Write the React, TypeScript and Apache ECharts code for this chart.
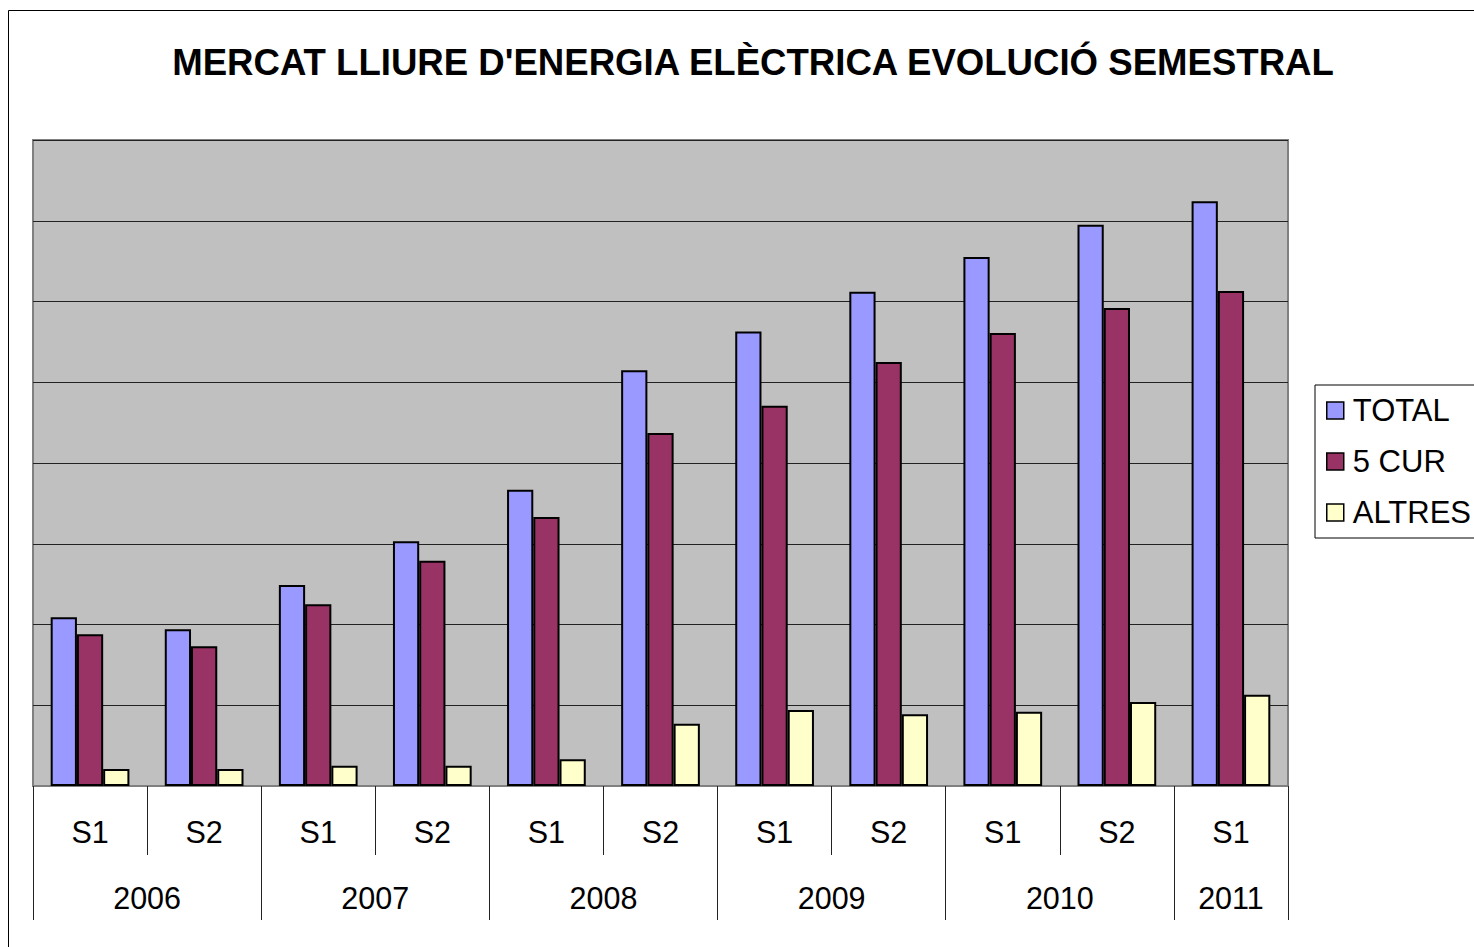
import React, { useEffect, useRef } from "react";
import * as echarts from "echarts";

const semesters = ["S1", "S2", "S1", "S2", "S1", "S2", "S1", "S2", "S1", "S2", "S1"];
const years = ["2006", "2007", "2008", "2009", "2010", "2011"];
const yearLabelPos = [1, 3, 5, 7, 9, 10.5];
const yearBoundaries = [0, 2, 4, 6, 8, 10, 11];
const seriesNames = ["TOTAL", "5 CUR", "ALTRES"];
const total = [2.09, 1.94, 2.49, 3.03, 3.67, 5.15, 5.63, 6.12, 6.55, 6.95, 7.24];
const cur5 = [1.88, 1.73, 2.25, 2.79, 3.33, 4.37, 4.71, 5.25, 5.61, 5.92, 6.13];
const altres = [0.21, 0.21, 0.25, 0.25, 0.33, 0.77, 0.94, 0.89, 0.92, 1.04, 1.13];
const colors = ["#9999FF", "#993366", "#FFFFCC"];

const FONT = "'Liberation Sans', Arial, sans-serif";

export default function App() {
  const ref = useRef<HTMLDivElement>(null);
  useEffect(() => {
    if (!ref.current) return;
    const chart = echarts.init(ref.current, null, { renderer: "svg" });
    const values = [total, cur5, altres];
    chart.setOption({
      animation: false,
      backgroundColor: "#ffffff",
      title: {
        text: "MERCAT LLIURE D'ENERGIA ELÈCTRICA EVOLUCIÓ SEMESTRAL",
        left: 748,
        textAlign: "center",
        top: 39,
        textStyle: { fontFamily: FONT, fontSize: 36.6, fontWeight: "bold", color: "#000" },
      },
      graphic: [
        {
          type: "rect",
          shape: { x: 8.5, y: 10.5, width: 1500, height: 1000 },
          style: { fill: "none", stroke: "#000", lineWidth: 1 },
          silent: true,
          z: 0,
        },
      ],
      legend: {
        orient: "vertical",
        left: 1315,
        top: 385,
        data: seriesNames,
        backgroundColor: "#fff",
        borderColor: "#000",
        borderWidth: 1,
        padding: [10, 60, 10, 11],
        itemWidth: 17,
        itemHeight: 17,
        itemGap: 20,
        icon: "rect",
        itemStyle: { borderColor: "#000", borderWidth: 1.5 },
        textStyle: { fontFamily: FONT, fontSize: 31, color: "#000", padding: [0, 0, 0, 4] },
      },
      grid: {
        left: 33,
        top: 140,
        right: 186,
        bottom: 161,
        show: true,
        backgroundColor: "#C0C0C0",
        borderColor: "#808080",
        borderWidth: 2,
      },
      xAxis: [
        {
          type: "category",
          data: semesters,
          position: "bottom",
          axisLine: { show: true, lineStyle: { color: "#808080", width: 2 } },
          axisTick: { show: true, interval: 0, length: 69, lineStyle: { color: "#222", width: 1 } },
          axisLabel: { interval: 0, margin: 30, fontFamily: FONT, fontSize: 30.5, color: "#000" },
          splitLine: { show: false },
        },
        {
          type: "value",
          min: 0,
          max: 11,
          position: "bottom",
          axisLine: { show: false },
          splitLine: { show: false },
          axisTick: {
            show: true,
            length: 134,
            customValues: yearBoundaries,
            lineStyle: { color: "#222", width: 1 },
          },
          axisLabel: {
            show: true,
            margin: 96,
            customValues: yearLabelPos,
            formatter: (v: number) => years[yearLabelPos.indexOf(v)] ?? "",
            fontFamily: FONT,
            fontSize: 30.5,
            color: "#000",
          },
        },
      ],
      yAxis: {
        type: "value",
        min: 0,
        max: 8,
        interval: 1,
        axisLine: { show: false },
        axisTick: { show: false },
        axisLabel: { show: false },
        splitLine: { show: true, lineStyle: { color: "#222", width: 1 } },
      },
      series: seriesNames.map((name, i) => ({
        name,
        type: "bar",
        xAxisIndex: 0,
        data: values[i],
        barGap: "0%",
        barCategoryGap: "31%",
        itemStyle: { color: colors[i], borderColor: "#000", borderWidth: 2 },
      })),
    });
    return () => chart.dispose();
  }, []);
  return (
    <div
      ref={ref}
      style={{ position: "fixed", left: 0, top: 0, width: 1474, height: 947, overflow: "hidden" }}
    />
  );
}
